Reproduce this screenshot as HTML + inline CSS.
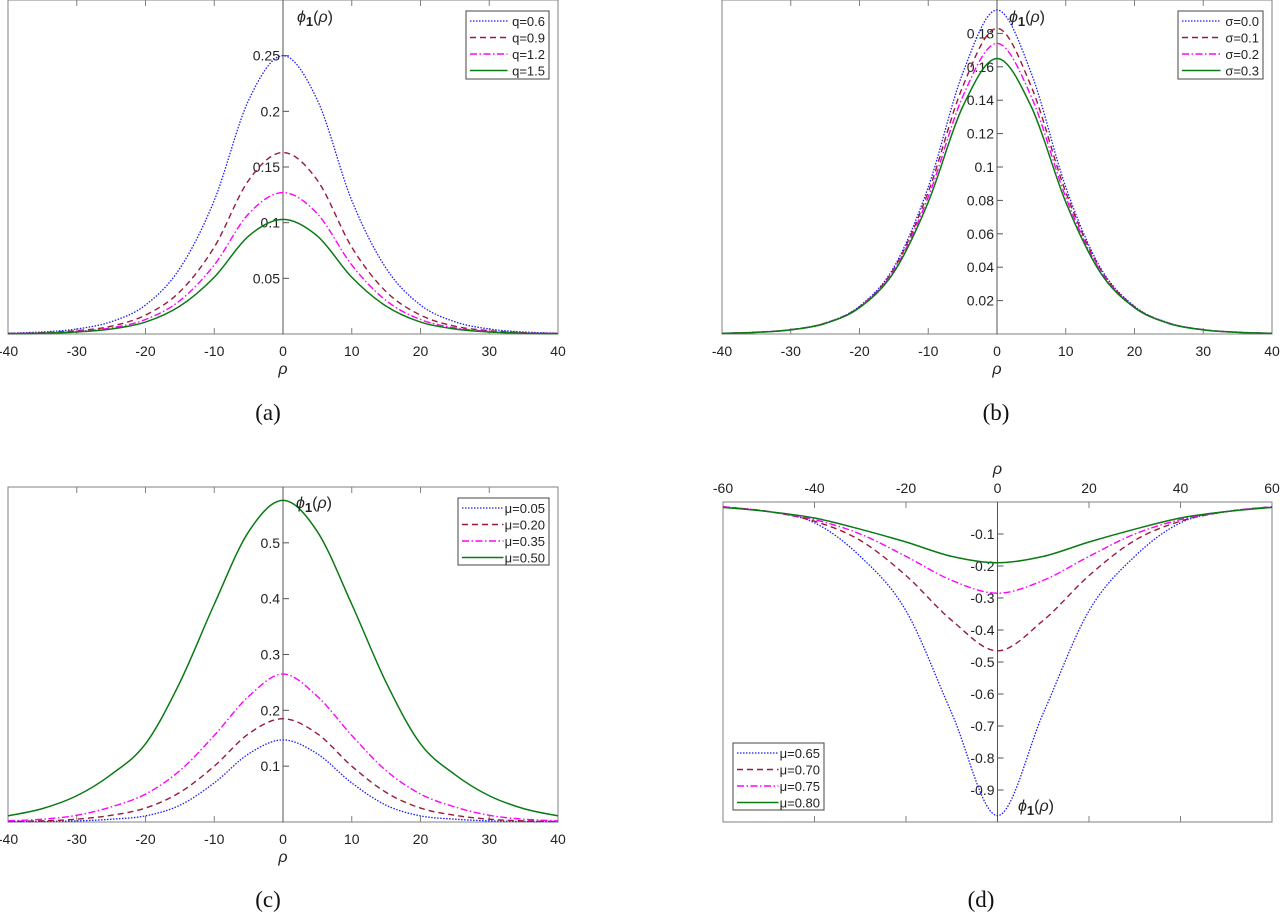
<!DOCTYPE html>
<html><head><meta charset="utf-8"><style>
html,body{margin:0;padding:0;background:#fff;}
svg{display:block;font-family:"Liberation Sans",Arial,sans-serif;}
</style></head><body>
<svg id="fig" width="1280" height="912" viewBox="0 0 1280 912" xmlns="http://www.w3.org/2000/svg"></svg>
<script>
// ---- data ----
const rhoA = [-40,-35,-30,-25,-20,-15,-10,-5,0,5,10,15,20,25,30,35,40];
const aQ06 = [0.0007,0.0018,0.0045,0.011,0.026,0.059,0.120,0.210,0.25,0.210,0.120,0.059,0.026,0.011,0.0045,0.0018,0.0007];
const aQ09 = [0.0005,0.0012,0.003,0.007,0.017,0.038,0.078,0.138,0.163,0.138,0.078,0.038,0.017,0.007,0.003,0.0012,0.0005];
const aQ12 = [0.0004,0.0009,0.0023,0.0055,0.013,0.030,0.062,0.108,0.127,0.108,0.062,0.030,0.013,0.0055,0.0023,0.0009,0.0004];
const aQ15 = [0.0003,0.0007,0.0018,0.0045,0.0107,0.025,0.051,0.088,0.103,0.088,0.051,0.025,0.0107,0.0045,0.0018,0.0007,0.0003];
const bS00 = [0.0004,0.0011,0.0026,0.0066,0.0166,0.040,0.088,0.156,0.194,0.156,0.088,0.040,0.0166,0.0066,0.0026,0.0011,0.0004];
const bS01 = [0.0004,0.0011,0.0026,0.0065,0.0163,0.039,0.085,0.148,0.183,0.148,0.085,0.039,0.0163,0.0065,0.0026,0.0011,0.0004];
const bS02 = [0.0004,0.0010,0.0025,0.0064,0.0160,0.038,0.082,0.142,0.174,0.142,0.082,0.038,0.0160,0.0064,0.0025,0.0010,0.0004];
const bS03 = [0.0004,0.0010,0.0025,0.0063,0.0158,0.037,0.079,0.136,0.165,0.136,0.079,0.037,0.0158,0.0063,0.0025,0.0010,0.0004];
const cM05 = [0.0005,0.001,0.002,0.005,0.011,0.030,0.070,0.122,0.147,0.122,0.070,0.030,0.011,0.005,0.002,0.001,0.0005];
const cM20 = [0.001,0.002,0.005,0.012,0.025,0.053,0.100,0.158,0.185,0.158,0.100,0.053,0.025,0.012,0.005,0.002,0.001];
const cM35 = [0.002,0.005,0.012,0.027,0.050,0.092,0.155,0.225,0.265,0.225,0.155,0.092,0.050,0.027,0.012,0.005,0.002];
const cM50 = [0.011,0.024,0.047,0.085,0.140,0.250,0.390,0.520,0.576,0.520,0.390,0.250,0.140,0.085,0.047,0.024,0.011];
const rhoD = [-60,-50,-40,-30,-20,-10,0,10,20,30,40,50,60];
const dM65 = [-0.015,-0.03,-0.065,-0.17,-0.34,-0.66,-0.98,-0.66,-0.34,-0.17,-0.065,-0.03,-0.015];
const dM70 = [-0.015,-0.03,-0.06,-0.12,-0.23,-0.37,-0.465,-0.37,-0.23,-0.12,-0.06,-0.03,-0.015];
const dM75 = [-0.015,-0.03,-0.055,-0.10,-0.17,-0.245,-0.285,-0.245,-0.17,-0.10,-0.055,-0.03,-0.015];
const dM80 = [-0.017,-0.03,-0.05,-0.085,-0.125,-0.17,-0.19,-0.17,-0.125,-0.085,-0.05,-0.03,-0.017];
const xTicksA = [-40,-30,-20,-10,0,10,20,30,40];
const xTicksD = [-60,-40,-20,0,20,40,60];
const yTicksA = [0.05,0.1,0.15,0.2,0.25];
const yLabelsA = ["0.05","0.1","0.15","0.2","0.25"];
const yTicksB = [0.02,0.04,0.06,0.08,0.1,0.12,0.14,0.16,0.18];
const yLabelsB = ["0.02","0.04","0.06","0.08","0.1","0.12","0.14","0.16","0.18"];
const yTicksC = [0.1,0.2,0.3,0.4,0.5];
const yLabelsC = ["0.1","0.2","0.3","0.4","0.5"];
const yTicksD = [-0.1,-0.2,-0.3,-0.4,-0.5,-0.6,-0.7,-0.8,-0.9];
const yLabelsD = ["-0.1","-0.2","-0.3","-0.4","-0.5","-0.6","-0.7","-0.8","-0.9"];
const legA = ["q=0.6","q=0.9","q=1.2","q=1.5"];
const legB = ["\u03c3=0.0","\u03c3=0.1","\u03c3=0.2","\u03c3=0.3"];
const legC = ["\u03bc=0.05","\u03bc=0.20","\u03bc=0.35","\u03bc=0.50"];
const legD = ["\u03bc=0.65","\u03bc=0.70","\u03bc=0.75","\u03bc=0.80"];

const NS="http://www.w3.org/2000/svg";
const svg=document.getElementById('fig');
const styles=[
 {c:'#1a1aff',d:'1.5,1.5',w:1.3},
 {c:'#9a1a3a',d:'6,4',w:1.4},
 {c:'#ff00ff',d:'7,2.5,1.5,2.5',w:1.4},
 {c:'#0a7a14',d:'',w:1.5}];
function el(tag,attrs,parent){const e=document.createElementNS(NS,tag);for(const k in attrs)e.setAttribute(k,attrs[k]);(parent||svg).appendChild(e);return e;}
function smooth(pts){let d='M'+pts[0][0]+','+pts[0][1];for(let i=0;i<pts.length-1;i++){const p0=pts[Math.max(0,i-1)],p1=pts[i],p2=pts[i+1],p3=pts[Math.min(pts.length-1,i+2)];
 const c1=[p1[0]+(p2[0]-p0[0])/6,p1[1]+(p2[1]-p0[1])/6],c2=[p2[0]-(p3[0]-p1[0])/6,p2[1]-(p3[1]-p1[1])/6];
 d+=' C'+c1[0].toFixed(2)+','+c1[1].toFixed(2)+' '+c2[0].toFixed(2)+','+c2[1].toFixed(2)+' '+p2[0].toFixed(2)+','+p2[1].toFixed(2);}return d;}

function panel(cfg){
 const g=el('g',{});
 
 
 const X=v=>cfg.L+(v-cfg.xmin)/(cfg.xmax-cfg.xmin)*(cfg.R-cfg.L);
 const Y=v=>cfg.B-(v-cfg.ymin)/(cfg.ymax-cfg.ymin)*(cfg.B-cfg.T);
 const box=el('rect',{x:cfg.L,y:cfg.T,width:cfg.R-cfg.L,height:cfg.B-cfg.T,fill:'none',stroke:'#808080','stroke-width':1},g);
 
 
 cfg.xt.forEach(v=>{const x=X(v);
  el('line',{x1:x,x2:x,y1:cfg.T,y2:cfg.T+6,stroke:'#808080'},g);
  el('line',{x1:x,x2:x,y1:cfg.B,y2:cfg.B-6,stroke:'#808080'},g);
  const t=el('text',{x:x,y:cfg.top?cfg.T-9:cfg.B+22,'text-anchor':'middle','font-size':14,fill:'#222'},g);
  t.textContent=v;
  
  
 });
 const x0=X(0);
 const ya=el('line',{x1:x0,x2:x0,y1:cfg.T,y2:cfg.B,stroke:'#555','stroke-width':1},g);
 
 
 cfg.yt.forEach((v,i)=>{const y=Y(v);
  el('line',{x1:x0,x2:x0+6,y1:y,y2:y,stroke:'#555'},g);
  const t=el('text',{x:x0-3,y:y+5,'text-anchor':'end','font-size':14,fill:'#222'},g);
  t.textContent=cfg.yl[i];
  
  
 });
 cfg.series.forEach((s,k)=>{const pts=cfg.xs.map((xv,i)=>[X(xv),Y(s[i])]);
  const p=el('path',{d:smooth(pts),fill:'none',stroke:styles[k].c,'stroke-width':styles[k].w,'stroke-dasharray':styles[k].d},g);
  
  
 });
 const xt=el('text',{x:x0,y:cfg.xtY,'text-anchor':'middle','font-size':16,'font-style':'italic',fill:'#222'},g);
 xt.textContent='\u03c1';
 
 
 const yt=el('text',{x:cfg.phX,y:cfg.phY,'font-size':16,fill:'#222'},g);
 yt.innerHTML='<tspan font-style="italic">\u03d5</tspan><tspan font-weight="bold" font-size="13" dy="4">1</tspan><tspan dy="-4">(</tspan><tspan font-style="italic">\u03c1</tspan><tspan>)</tspan>';
 
 
 const lg=el('g',{},g);
 
 
 const [lx,ly,lw,lh]=cfg.leg;
 el('rect',{x:lx,y:ly,width:lw,height:lh,fill:'#fff',stroke:'#444','stroke-width':1},lg);
 cfg.legT.forEach((s,k)=>{const yy=ly+10+k*16.5;
  el('line',{x1:lx+4,x2:lx+lw*0.5,y1:yy,y2:yy,stroke:styles[k].c,'stroke-width':styles[k].w,'stroke-dasharray':styles[k].d},lg);
  const t=el('text',{x:lx+lw-4,y:yy+5,'text-anchor':'end','font-size':13,fill:'#222'},lg);
  t.textContent=s;
  
  
 });
 const cp=el('text',{x:cfg.capX,y:cfg.capY,'text-anchor':'middle','font-size':23,'font-family':'"Liberation Serif",serif',fill:'#111'},g);
 cp.textContent=cfg.cap;
 
 
}
panel({name:'panel-a',L:8,R:558,T:0,B:334,xmin:-40,xmax:40,ymin:0,ymax:0.3,xt:xTicksA,yt:yTicksA,yl:yLabelsA,xs:rhoA,series:[aQ06,aQ09,aQ12,aQ15],xtY:374,phX:297,phY:22,leg:[466,11,83,68],legT:legA,cap:'(a)',capX:268,capY:420});
panel({name:'panel-b',L:722,R:1272,T:0,B:334,xmin:-40,xmax:40,ymin:0,ymax:0.2,xt:xTicksA,yt:yTicksB,yl:yLabelsB,xs:rhoA,series:[bS00,bS01,bS02,bS03],xtY:374,phX:1009,phY:22,leg:[1178,11,85,68],legT:legB,cap:'(b)',capX:996,capY:420});
panel({name:'panel-c',L:8,R:558,T:487,B:822,xmin:-40,xmax:40,ymin:0,ymax:0.6,xt:xTicksA,yt:yTicksC,yl:yLabelsC,xs:rhoA,series:[cM05,cM20,cM35,cM50],xtY:862,phX:296,phY:508,leg:[458,498,91,67],legT:legC,cap:'(c)',capX:268,capY:907});
panel({name:'panel-d',L:723,R:1272,T:502,B:822,xmin:-60,xmax:60,ymin:-1,ymax:0,xt:xTicksD,yt:yTicksD,yl:yLabelsD,xs:rhoD,series:[dM65,dM70,dM75,dM80],xtY:474,top:true,phX:1018,phY:811,leg:[733,743,91,67],legT:legD,cap:'(d)',capX:981,capY:907});
</script>
</body></html>
